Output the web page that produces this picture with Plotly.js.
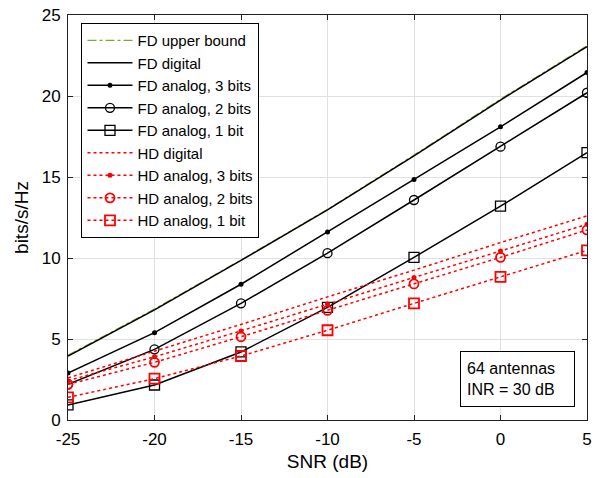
<!DOCTYPE html>
<html><head><meta charset="utf-8">
<script src="https://cdn.plot.ly/plotly-3.0.1.min.js"></script>
<style>html,body{margin:0;padding:0;background:#fff}#chart{width:600px;height:478px}</style>
</head><body><div id="chart"></div>
<script>
const snr = [-25, -20, -15, -10, -5, 0, 5];
const fdUpper = [4.0, 6.85, 9.88, 13.0, 16.35, 19.8, 23.1];
const fdDigital = [3.95, 6.8, 9.85, 12.97, 16.3, 19.75, 23.05];
const fdAnalog3 = [2.9, 5.39, 8.38, 11.6, 14.85, 18.1, 21.45];
const fdAnalog2 = [2.2, 4.36, 7.2, 10.3, 13.58, 16.87, 20.2];
const fdAnalog1 = [0.93, 2.16, 4.2, 6.95, 10.04, 13.2, 16.5];
const hdDigital = [2.6, 4.25, 5.9, 7.6, 9.25, 10.95, 12.6];
const hdAnalog3 = [2.43, 3.9, 5.5, 7.16, 8.8, 10.43, 12.08];
const hdAnalog2 = [2.2, 3.56, 5.14, 6.77, 8.4, 10.04, 11.73];
const hdAnalog1 = [1.4, 2.55, 3.95, 5.54, 7.2, 8.83, 10.47];
const names = ["FD upper bound","FD digital","FD analog, 3 bits","FD analog, 2 bits","FD analog, 1 bit","HD digital","HD analog, 3 bits","HD analog, 2 bits","HD analog, 1 bit"];
const xTicks = [-25, -20, -15, -10, -5, 0, 5];
const yTicks = [0, 5, 10, 15, 20, 25];
const boxText = "64 antennas<br>INR = 30 dB";

const black = "#000000", red = "#ff0000", green = "#77ac30";
function tr(y, name, color, dash, width, symbol, msize, mlw) {
  const t = {x: snr, y: y, name: name, type: "scatter",
    mode: symbol ? "lines+markers" : "lines",
    line: {color: color, dash: dash, width: width}};
  if (symbol) t.marker = {symbol: symbol, size: msize, color: color, line: {color: color, width: mlw}};
  return t;
}
const data = [
  tr(fdUpper, names[0], green, "dashdot", 1.2),
  tr(fdDigital, names[1], black, "solid", 1.5),
  tr(fdAnalog3, names[2], black, "solid", 1.5, "circle", 5, 0),
  tr(fdAnalog2, names[3], black, "solid", 1.5, "circle-open", 9, 1.3),
  tr(fdAnalog1, names[4], black, "solid", 1.5, "square-open", 10, 1.3),
  tr(hdDigital, names[5], red, "dot", 1.5),
  tr(hdAnalog3, names[6], red, "dot", 1.5, "circle", 5, 0),
  tr(hdAnalog2, names[7], red, "dot", 1.5, "circle-open", 9, 1.8),
  tr(hdAnalog1, names[8], red, "dot", 1.5, "square-open", 10, 1.8)
];
const fam = "Liberation Sans, Arial, sans-serif";
const layout = {
  width: 600, height: 478,
  margin: {l: 68, r: 13, t: 15, b: 58},
  paper_bgcolor: "#fff", plot_bgcolor: "#fff",
  font: {family: fam, size: 17, color: "#000"},
  showlegend: true,
  legend: {x: 0.026, y: 0.98, xanchor: "left", yanchor: "top", itemwidth: 45,
    bgcolor: "#fff", bordercolor: "#000", borderwidth: 1,
    font: {family: fam, size: 15, color: "#000"}, tracegroupgap: 0},
  xaxis: {range: [-25, 5], tickvals: xTicks, ticktext: xTicks.map(String),
    ticks: "inside", ticklen: 5, tickcolor: "#222", showline: true, linecolor: "#222", mirror: "ticks",
    showgrid: true, gridcolor: "#e0e0e0", zeroline: false, ticklabelstandoff: 4,
    tickfont: {family: fam, size: 17},
    title: {text: "SNR (dB)", font: {family: fam, size: 19}, standoff: 6}},
  yaxis: {range: [0, 25], tickvals: yTicks, ticktext: yTicks.map(String),
    ticks: "inside", ticklen: 5, tickcolor: "#222", showline: true, linecolor: "#222", mirror: "ticks",
    showgrid: true, gridcolor: "#e0e0e0", zeroline: false, ticklabelstandoff: 3,
    tickfont: {family: fam, size: 17},
    title: {text: "bits/s/Hz", font: {family: fam, size: 19}, standoff: 8}},
  annotations: [{xref: "x", yref: "y", x: 0.98, y: 2.53, text: boxText, showarrow: false,
    align: "left", width: 101, height: 42, bordercolor: "#000", borderwidth: 1, borderpad: 6, bgcolor: "#fff",
    font: {family: fam, size: 16, color: "#000"}}]
};
Plotly.newPlot("chart", data, layout, {displayModeBar: false, staticPlot: true});
</script></body></html>
